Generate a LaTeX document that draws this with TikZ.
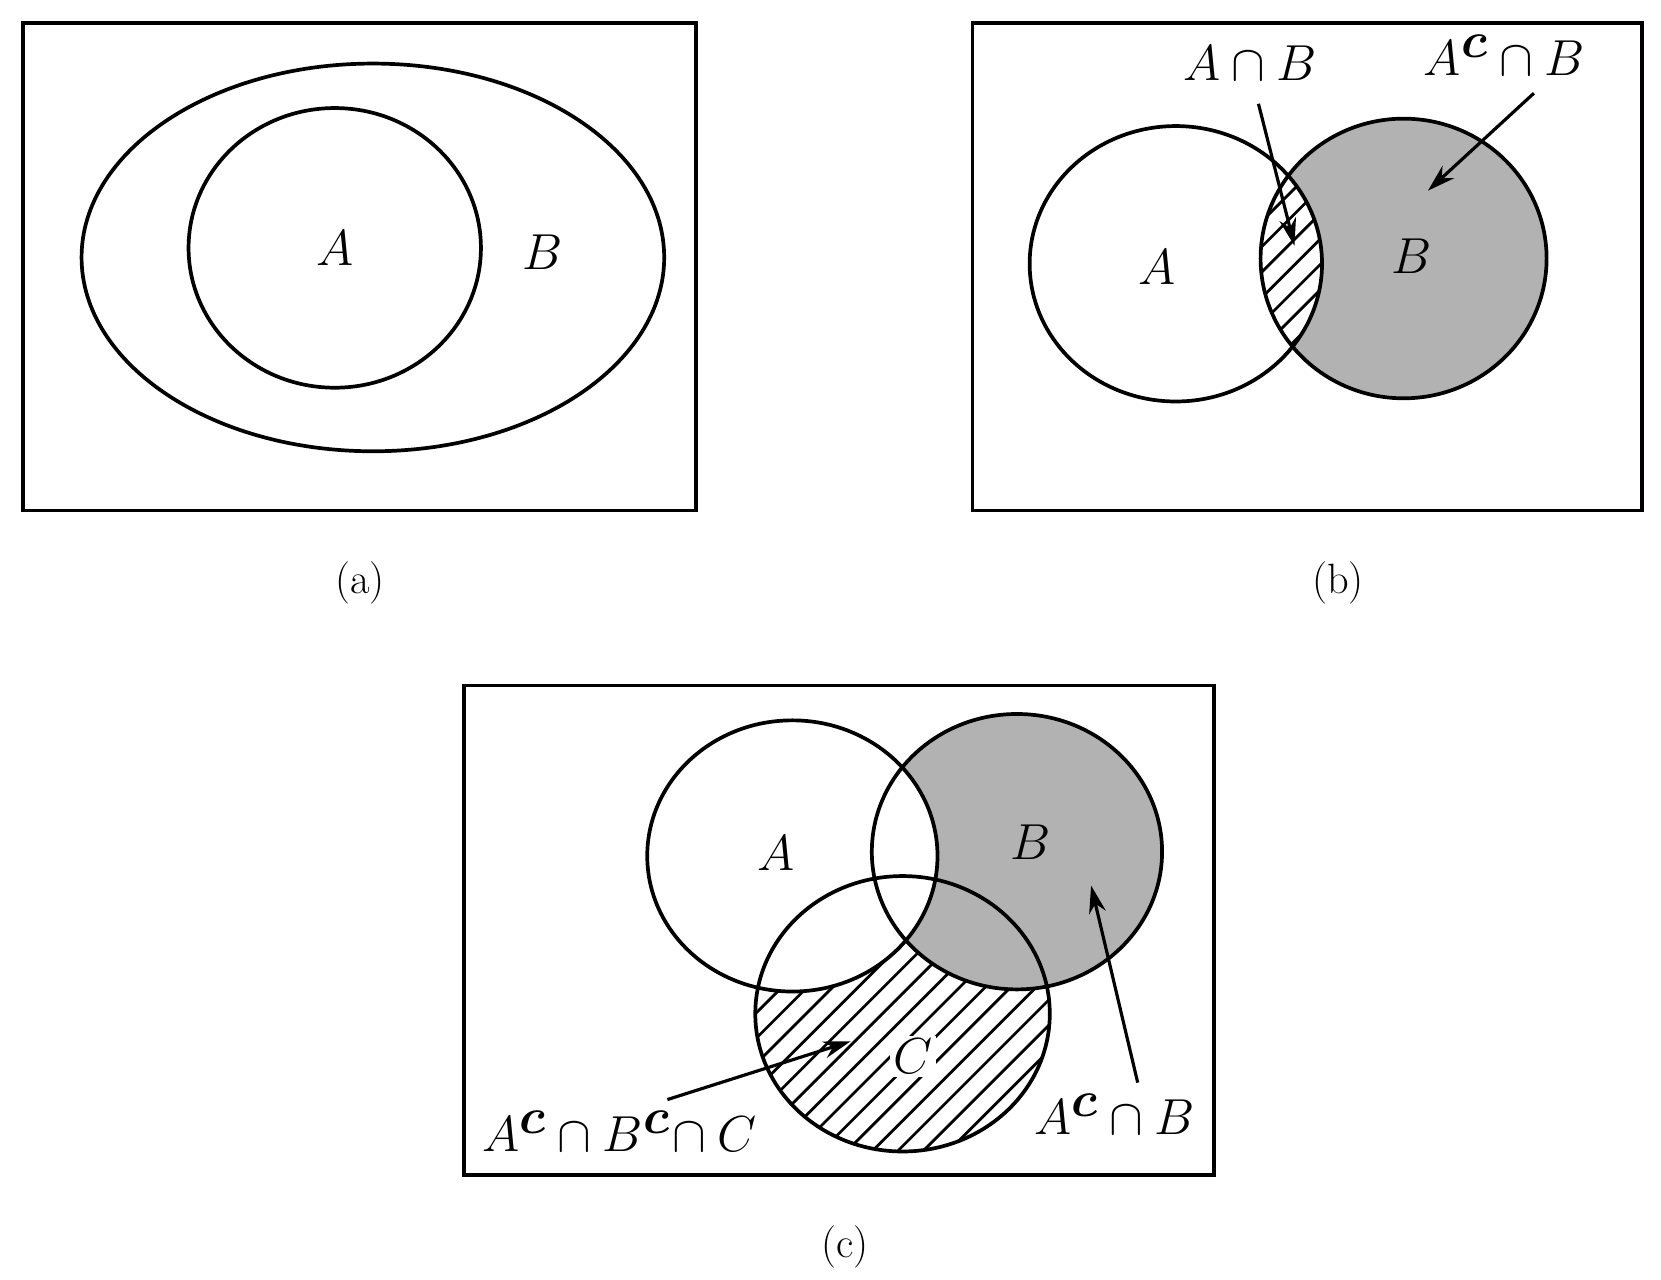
\documentclass[tikz,border=0pt]{standalone}
\usepackage{graphicx}
\usepackage{bm}
\usetikzlibrary{arrows.meta}
\newcommand{\mth}[1]{\scalebox{1.92}{$#1$}}
\begin{document}
\begin{tikzpicture}[x=1pt,y=-1pt,line width=3.5pt,
  lbl/.style={font=\fontsize{40}{48}\selectfont,inner sep=0pt},
  arr/.style={line width=3pt,-{Stealth[length=26pt,width=16pt]}},
  hatch/.style={line width=2.6pt}]
\useasboundingbox (0,0) rectangle (1568,1208);
% (a)
\draw (22,22) rectangle (657,482);
\draw (352,243) ellipse [x radius=275,y radius=183];
\draw (316,234) ellipse [x radius=138,y radius=132];
\node[lbl] (aA) at (316,234) {\mth{A}};
\node[lbl] (aB) at (512,238) {\mth{B}};
\node[lbl] (la) at (340,550) {(a)};
% (b)
\draw (918,22) rectangle (1550,482);
\fill[gray!60] (1325,244) ellipse [x radius=135,y radius=132];
\begin{scope}
  \clip (1110,249) ellipse [x radius=138,y radius=130];
  \fill[white] (1325,244) ellipse [x radius=135,y radius=132];
  \clip (1325,244) ellipse [x radius=135,y radius=132];
  \foreach \k in {0,...,20} \draw[hatch] (1000+\k*24,400) -- ++(300,-300);
\end{scope}
\draw (1110,249) ellipse [x radius=138,y radius=130];
\draw (1325,244) ellipse [x radius=135,y radius=132];
\node[lbl] (bA) at (1092,252) {\mth{A}};
\node[lbl] (bB) at (1333,242) {\mth{B}};
\node[lbl] (bAB) at (1180,60) {\mth{A\cap B}};
\node[lbl] (bAcB) at (1420,52) {\mth{A^{\bm c}\cap B}};
\coordinate (b1) at (1222,232);
\coordinate (b2) at (1348,180);
\draw[arr] (1188,98) -- (b1);
\draw[arr] (1448,88) -- (b2);
\node[lbl] (lb) at (1263,550) {(b)};
% (c)
\draw (438,647) rectangle (1146,1109);
\begin{scope}
  \clip (852,957) ellipse [x radius=139,y radius=130];
  \foreach \k in {0,...,40} \draw[hatch] (400+\k*24,1150) -- ++(400,-400);
\end{scope}
\fill[gray!60] (960,804) ellipse [x radius=137,y radius=130];
\fill[white] (748,808) ellipse [x radius=137,y radius=128];
\draw (748,808) ellipse [x radius=137,y radius=128];
\draw (960,804) ellipse [x radius=137,y radius=130];
\draw (852,957) ellipse [x radius=139,y radius=130];
\node[lbl] (cA) at (733,805) {\mth{A}};
\node[lbl] (cB) at (973,795) {\mth{B}};
\node[lbl,fill=white,inner sep=3pt] (cC) at (862,997) {\mth{C}};
\node[lbl] (cABC) at (585,1068) {\mth{A^{\bm c}\cap B^{\bm c}\!\cap C}};
\node[lbl] (cAcB) at (1052,1052) {\mth{A^{\bm c}\cap B}};
\coordinate (c1) at (803,983);
\coordinate (c2) at (1030,836);
\draw[arr] (630,1038) -- (c1);
\draw[arr] (1074,1022) -- (c2);
\node[lbl] (lc) at (798,1177) {(c)};
\end{tikzpicture}
\end{document}
